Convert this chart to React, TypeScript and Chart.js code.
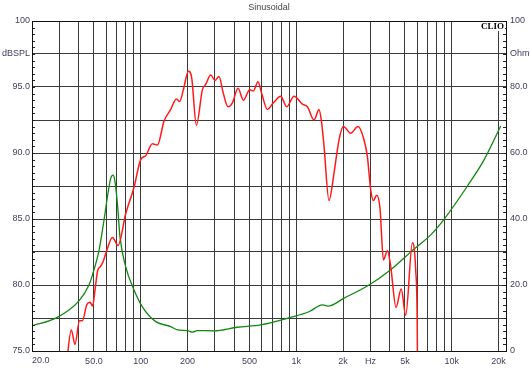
import React, { useEffect, useRef } from 'react';
import { Chart, registerables } from 'chart.js';

Chart.register(...registerables);

// SPL response (dB SPL, left axis)
const splFreq = [33, 35.8, 37.8, 40.4, 42.2, 45.0, 47.2, 49.1, 50.8, 52.9, 55.1, 57.0, 60.4, 65.8, 71.5, 80.1, 90.6, 100, 107.7, 118.9, 128.1, 141.2, 156, 169.6, 178.1, 188.2, 202.6, 212.8, 228.1, 249.4, 261.8, 282, 300.5, 318.8, 340.2, 364.2, 388.8, 422.4, 457.6, 502.3, 530.6, 568, 600, 652.8, 713.6, 795, 868.7, 968, 1096, 1180, 1302, 1402, 1453, 1510, 1625, 1751, 1885, 2012, 2241, 2497, 2729, 2870, 3014, 3137, 3294, 3459, 3638, 3860, 4053, 4384, 4733, 5060, 5589, 5869, 6000, 6050];
const splValues = [73.5, 76.6, 75.5, 77.3, 77.3, 78.5, 78.7, 78.4, 79.6, 81.1, 81.4, 81.7, 82.6, 83.6, 83.0, 85.4, 87.4, 89.5, 89.8, 90.7, 90.6, 92.4, 93.3, 94.1, 93.9, 94.8, 96.2, 95.7, 92.1, 94.8, 95.2, 95.9, 95.5, 95.8, 94.5, 93.5, 93.8, 94.9, 94.0, 94.8, 94.7, 95.4, 94.5, 93.3, 93.8, 94.3, 93.5, 94.3, 93.7, 93.5, 92.5, 93.3, 92.4, 90.5, 86.4, 88.5, 91.0, 92.0, 91.5, 92.0, 91.0, 89.7, 87.2, 86.4, 86.8, 85.8, 81.9, 82.6, 81.4, 78.3, 79.7, 77.7, 83.2, 81.1, 77.1, 70];

// Impedance (Ohm, right axis)
const zFreq = [20, 29.1, 40.1, 46.5, 48.9, 54.0, 58.1, 61.6, 64.1, 66.4, 68.1, 70.8, 73.6, 80.1, 90.6, 102.5, 124.9, 156, 172.2, 199.7, 215, 231.5, 296, 418.7, 591, 922, 1208, 1474, 1600, 2029, 2939, 3994, 5655, 7328, 8925, 12620, 16140, 20660];
const zValues = [7.6, 10.2, 15.2, 20.0, 23.0, 30.6, 39.7, 47.8, 52.3, 53.3, 51.8, 44.8, 34.6, 25.5, 18.5, 13.4, 8.9, 7.4, 6.4, 6.2, 5.7, 6.2, 6.1, 7.2, 7.9, 10.2, 11.9, 14.0, 13.6, 16.0, 20.0, 24.4, 30.7, 35.2, 39.9, 50.0, 57.9, 68.2];

const xTicks = [20, 30, 40, 50, 60, 70, 80, 90, 100, 200, 300, 400, 500, 600, 700, 800, 900, 1000, 2000, 3000, 4000, 5000, 6000, 7000, 8000, 9000, 10000, 20000];
const xLabels: Record<number, string> = { 50: '50.0', 100: '100', 200: '200', 500: '500', 1000: '1k', 2000: '2k', 3000: 'Hz', 5000: '5k', 10000: '10k', 20000: '20k' };
const firstXLabel = '20.0';
const leftLabels: Record<string, string> = { '100': '100', '97.5': 'dBSPL', '95': '95.0', '90': '90.0', '85': '85.0', '80': '80.0', '75': '75.0' };
const rightLabels: Record<string, string> = { '100': '100', '90': 'Ohm', '80': '80.0', '60': '60.0', '40': '40.0', '20': '20.0', '0': '0' };

const FONT = "'Liberation Sans', Arial, sans-serif";
const LABEL_COLOR = '#3d3d5c';
const GRID = '#3a3a3a';

const decor = {
  id: 'decor',
  afterDraw(chart: any) {
    const { ctx, chartArea: a, scales } = chart;
    ctx.save();
    ctx.strokeStyle = '#222';
    ctx.lineWidth = 1;
    const yl = scales.y;
    for (let v = 75; v <= 100.001; v += 0.5) {
      const p = Math.round(yl.getPixelForValue(v)) + 0.5;
      ctx.beginPath();
      ctx.moveTo(a.left, p);
      ctx.lineTo(a.left + 3, p);
      ctx.moveTo(a.right - 3, p);
      ctx.lineTo(a.right, p);
      ctx.stroke();
    }
    // CLIO logo with white backing
    ctx.font = "bold 9px 'Liberation Serif', 'Times New Roman', serif";
    const w = ctx.measureText('CLIO').width;
    ctx.fillStyle = '#fff';
    ctx.fillRect(a.right - 2 - w - 1, a.top + 1, w + 2, 9);
    ctx.fillStyle = '#000';
    ctx.textAlign = 'right';
    ctx.textBaseline = 'middle';
    ctx.fillText('CLIO', a.right - 2, a.top + 5.5);
    // frame
    ctx.strokeStyle = '#111';
    ctx.strokeRect(Math.round(a.left) + 0.5, Math.round(a.top) + 0.5, Math.round(a.right - a.left), Math.round(a.bottom - a.top));
    // title
    ctx.fillStyle = '#444';
    ctx.font = `9px ${FONT}`;
    ctx.textAlign = 'center';
    ctx.fillText('Sinusoidal', 269, 8);
    // first x label, kept inside the plot edge
    ctx.fillStyle = LABEL_COLOR;
    ctx.textAlign = 'left';
    ctx.textBaseline = 'top';
    ctx.fillText(firstXLabel, scales.x.getPixelForValue(20), a.bottom + 5);
    ctx.restore();
  },
};

export default function App() {
  const ref = useRef<HTMLCanvasElement | null>(null);
  useEffect(() => {
    document.body.style.margin = '0';
    const canvas = ref.current;
    if (!canvas) return;
    const chart = new Chart(canvas, {
      type: 'line',
      data: {
        datasets: [
          {
            label: 'SPL',
            data: splFreq.map((f, i) => ({ x: f, y: splValues[i] })),
            borderColor: '#ff1a1a',
            borderWidth: 1.5,
            pointRadius: 0,
            cubicInterpolationMode: 'monotone',
            yAxisID: 'y',
          },
          {
            label: 'Impedance',
            data: zFreq.map((f, i) => ({ x: f, y: zValues[i] })),
            borderColor: '#118811',
            borderWidth: 1.3,
            pointRadius: 0,
            cubicInterpolationMode: 'monotone',
            yAxisID: 'y1',
          },
        ],
      },
      options: {
        responsive: false,
        animation: false,
        devicePixelRatio: 1,
        layout: { padding: { top: 21, left: 0, right: 0, bottom: 0 } },
        plugins: { legend: { display: false }, tooltip: { enabled: false }, title: { display: false } },
        scales: {
          x: {
            type: 'logarithmic',
            min: 20,
            max: 22340,
            afterBuildTicks: (s: any) => { s.ticks = xTicks.map((v) => ({ value: v })); },
            afterFit: (s: any) => { s.height = 20; },
            grid: { color: GRID, lineWidth: 1, drawTicks: false },
            border: { display: false },
            ticks: {
              autoSkip: false,
              maxRotation: 0,
              padding: 5,
              color: LABEL_COLOR,
              font: { family: FONT, size: 9 },
              callback: (v: any) => xLabels[Number(v)] ?? '',
            },
          },
          y: {
            position: 'left',
            min: 75,
            max: 100,
            afterBuildTicks: (s: any) => {
              const t = [];
              for (let v = 75; v <= 100.001; v += 2.5) t.push({ value: v });
              s.ticks = t;
            },
            afterFit: (s: any) => { s.width = 32; },
            grid: { color: GRID, lineWidth: 1, drawTicks: false },
            border: { display: false },
            ticks: {
              autoSkip: false,
              padding: 2,
              color: LABEL_COLOR,
              font: { family: FONT, size: 9 },
              callback: (v: any) => leftLabels[String(Number(v))] ?? '',
            },
          },
          y1: {
            position: 'right',
            min: 0,
            max: 100,
            afterBuildTicks: (s: any) => {
              const t = [];
              for (let v = 0; v <= 100; v += 10) t.push({ value: v });
              s.ticks = t;
            },
            afterFit: (s: any) => { s.width = 24; },
            grid: { display: false, drawTicks: false },
            border: { display: false },
            ticks: {
              autoSkip: false,
              padding: 4,
              color: LABEL_COLOR,
              font: { family: FONT, size: 9 },
              callback: (v: any) => rightLabels[String(Number(v))] ?? '',
            },
          },
        },
      },
      plugins: [decor],
    } as any);
    return () => chart.destroy();
  }, []);
  return (
    <div style={{ width: 530, height: 371, background: '#fff' }}>
      <canvas ref={ref} width={530} height={371} style={{ display: 'block' }} />
    </div>
  );
}
